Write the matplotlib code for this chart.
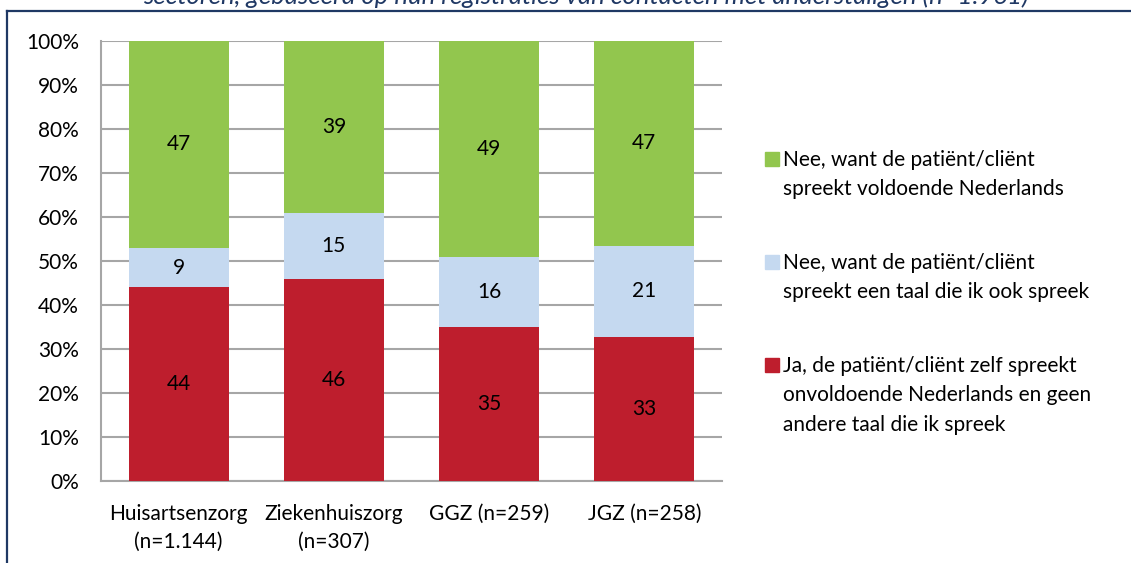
import numpy as np
import matplotlib
matplotlib.use("Agg")
import matplotlib.pyplot as plt
from matplotlib.lines import Line2D
from matplotlib.patches import Rectangle

plt.rcParams['font.family'] = ['Lato', 'DejaVu Sans']

categories = ["Huisartsenzorg\n(n=1.144)", "Ziekenhuiszorg\n(n=307)",
              "GGZ (n=259)", "JGZ (n=258)"]
ja_onvoldoende = [44, 46, 35, 33]
nee_zelfde_taal = [9, 15, 16, 21]
nee_voldoende = [47, 39, 49, 47]

series_labels = [
    "Ja, de patiënt/cliënt zelf spreekt\nonvoldoende Nederlands en geen\nandere taal die ik spreek",
    "Nee, want de patiënt/cliënt\nspreekt een taal die ik ook spreek",
    "Nee, want de patiënt/cliënt\nspreekt voldoende Nederlands",
]
colors = ["#BE1E2D", "#C5D9F0", "#92C64E"]
title = "sectoren, gebaseerd op hun registraties van contacten met anderstaligen (n=1.961)"

W, H = 1131, 563
fs = 15
fig = plt.figure(figsize=(W / 100, H / 100), dpi=100)
ax = fig.add_axes([101 / W, 82 / H, 621 / W, 440 / H])

data = np.array([ja_onvoldoende, nee_zelfde_taal, nee_voldoende], dtype=float)
pct = data / data.sum(axis=0) * 100
x = np.arange(len(categories))
bottom = np.zeros(len(categories))
for i in range(3):
    ax.bar(x, pct[i], 0.645, bottom=bottom, color=colors[i], zorder=3)
    for j in range(len(categories)):
        ax.text(x[j], bottom[j] + pct[i][j] / 2, str(int(data[i][j])),
                ha='center', va='center', fontsize=fs, zorder=4)
    bottom += pct[i]

ax.set_xlim(-0.5, len(categories) - 0.5)
ax.set_ylim(0, 100)
ax.set_yticks(np.arange(0, 101, 10))
ax.set_yticklabels([f"{v}%" for v in range(0, 101, 10)], fontsize=fs)
ax.set_xticks(x)
ax.set_xticklabels(categories, fontsize=fs, linespacing=1.5)
ax.tick_params(axis='y', length=0, pad=16)
ax.tick_params(axis='x', length=0, pad=16.5)
ax.grid(axis='y', color='#A6A6A6', linewidth=1.5, zorder=0)
for s in ['top', 'right']:
    ax.spines[s].set_visible(False)
for s in ['left', 'bottom']:
    ax.spines[s].set_color('#A6A6A6')
    ax.spines[s].set_linewidth(1.5)

# legend drawn by hand (square aligned with first line)
legend_rows = [(2, 152, 166), (1, 255, 269), (0, 358, 372)]
for idx, ytop, base in legend_rows:
    fig.patches.append(Rectangle((765 / W, 1 - (ytop + 14) / H), 14 / W, 14 / H,
                                 transform=fig.transFigure, color=colors[idx]))
    for k, line in enumerate(series_labels[idx].split("\n")):
        fig.text(783 / W, 1 - (base + 29.3 * k) / H, line, fontsize=fs,
                 va='baseline', ha='left')

# cut-off title and frame
fig.text(586 / W, 1 - 4 / H, title, fontsize=18.5, style='italic',
         color='#1F3864', ha='center', va='baseline')
fig.add_artist(Line2D([7 / W, 7 / W], [0, 1 - 11 / H], color='#1F3864', linewidth=1.6))
fig.add_artist(Line2D([7 / W, 1], [1 - 11 / H, 1 - 11 / H], color='#1F3864', linewidth=1.6))

fig.savefig("out.png", dpi=100)
